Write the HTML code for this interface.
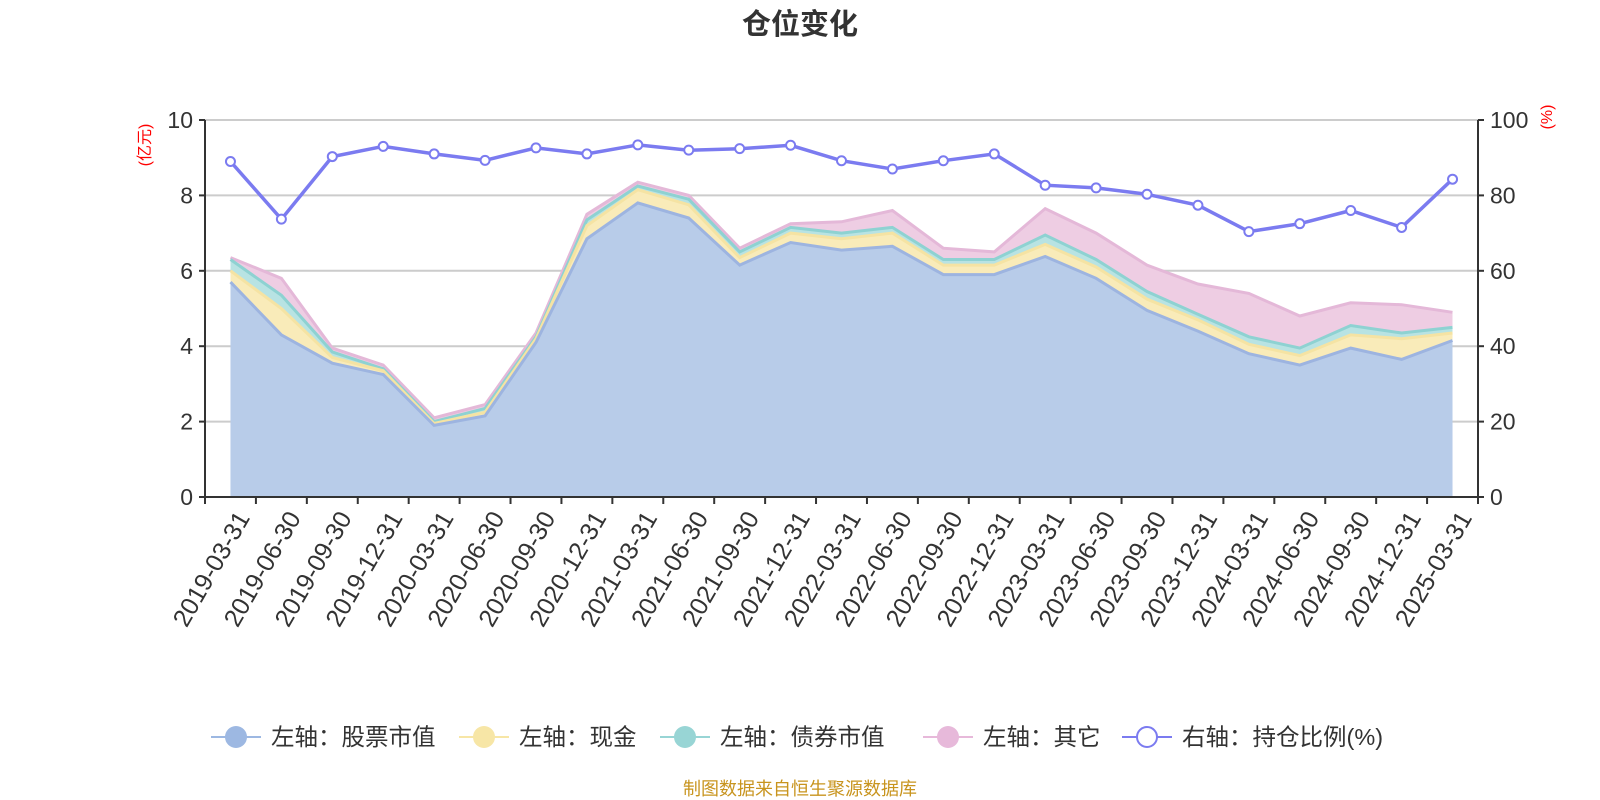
<!DOCTYPE html>
<html><head><meta charset="utf-8">
<style>
html,body{margin:0;padding:0;background:#fff;}
svg{display:block;font-family:"Liberation Sans","Noto Sans CJK SC",sans-serif;}
</style></head>
<body>
<svg id="c" width="1600" height="800" viewBox="0 0 1600 800" xmlns="http://www.w3.org/2000/svg">
<text x="800" y="34" text-anchor="middle" font-size="29" font-weight="bold" fill="#333">仓位变化</text>
<g id="grid"></g>
<g id="areas"></g>
<g id="axes"></g>
<g id="line"></g>
<text transform="translate(150,145) rotate(-90)" text-anchor="middle" font-size="16" fill="#f00">(亿元)</text>
<text transform="translate(1552,117) rotate(-90)" text-anchor="middle" font-size="16" fill="#f00">(%)</text>
<g id="legend" font-size="23.5" fill="#333"></g>
<text x="800" y="795" text-anchor="middle" font-size="18" fill="#c8941e">制图数据来自恒生聚源数据库</text>
</svg>
<script>
const NS="http://www.w3.org/2000/svg";
function el(p,t,a,txt){const e=document.createElementNS(NS,t);for(const k in a)e.setAttribute(k,a[k]);if(txt!=null)e.textContent=txt;document.getElementById(p).appendChild(e);return e;}
const dates=["2019-03-31","2019-06-30","2019-09-30","2019-12-31","2020-03-31","2020-06-30","2020-09-30","2020-12-31","2021-03-31","2021-06-30","2021-09-30","2021-12-31","2022-03-31","2022-06-30","2022-09-30","2022-12-31","2023-03-31","2023-06-30","2023-09-30","2023-12-31","2024-03-31","2024-06-30","2024-09-30","2024-12-31","2025-03-31"];
const stock=[5.7,4.3,3.55,3.25,1.9,2.15,4.1,6.85,7.8,7.4,6.15,6.75,6.55,6.65,5.9,5.9,6.38,5.8,4.95,4.4,3.8,3.5,3.95,3.65,4.15];
const cash=[6.0,5.0,3.7,3.35,1.95,2.25,4.2,7.2,8.15,7.75,6.35,7.0,6.85,7.0,6.15,6.15,6.7,6.1,5.25,4.7,4.05,3.75,4.3,4.2,4.35];
const bond=[6.3,5.35,3.85,3.4,2.0,2.35,4.25,7.35,8.25,7.9,6.5,7.15,7.0,7.15,6.3,6.3,6.95,6.3,5.45,4.85,4.25,3.95,4.55,4.35,4.5];
const other=[6.35,5.8,3.95,3.5,2.1,2.45,4.35,7.5,8.35,8.0,6.6,7.25,7.3,7.6,6.6,6.5,7.65,7.0,6.15,5.65,5.4,4.8,5.15,5.1,4.9];
const ratio=[89,73.7,90.3,93,91,89.3,92.6,91,93.4,92,92.4,93.3,89.2,87,89.2,91,82.7,82,80.3,77.4,70.4,72.5,76,71.5,84.3];
const L=205,R=1478,T=120,B=497,n=25,step=(R-L)/n;
const X=i=>L+step*(i+0.5), Y=v=>B-(B-T)*v/10, Yr=v=>B-(B-T)*v/100;
for(let k=0;k<=5;k++){const y=B-(B-T)*k/5;
 if(k>0)el("grid","line",{x1:L,x2:R,y1:y,y2:y,stroke:"#ccc","stroke-width":2});
 el("axes","line",{x1:L-6,x2:L,y1:y,y2:y,stroke:"#333","stroke-width":2});
 el("axes","line",{x1:R,x2:R+6,y1:y,y2:y,stroke:"#333","stroke-width":2});
 el("axes","text",{x:L-12,y:y+8,"text-anchor":"end","font-size":23,fill:"#333"},String(k*2));
 el("axes","text",{x:R+12,y:y+8,"font-size":23,fill:"#333"},String(k*20));}
function pts(a,f){return a.map((v,i)=>X(i).toFixed(1)+","+f(v).toFixed(1));}
const layers=[[other,bond,"#eecde3","#e4b8d8"],[bond,cash,"#b8e3e3","#8ed2d2"],[cash,stock,"#f9ebb9","#f5e3a3"],[stock,null,"#b8cce9","#9db4e0"]];
for(const [top,bot,fill,st] of layers){
 const up=pts(top,Y);
 const down=bot?pts(bot,Y).reverse():[X(n-1)+","+B,X(0)+","+B];
 el("areas","polygon",{points:up.concat(down).join(" "),fill:fill});
}
for(const [top,bot,fill,st] of layers){el("areas","polyline",{points:pts(top,Y).join(" "),fill:"none",stroke:st,"stroke-width":3});}
el("axes","line",{x1:L,x2:L,y1:T,y2:B,stroke:"#333","stroke-width":2});
el("axes","line",{x1:R,x2:R,y1:T,y2:B,stroke:"#333","stroke-width":2});
el("axes","line",{x1:L,x2:R,y1:B,y2:B,stroke:"#333","stroke-width":2});
for(let i=0;i<=n;i++){const x=L+step*i;el("axes","line",{x1:x,x2:x,y1:B,y2:B+7,stroke:"#333","stroke-width":2});}
dates.forEach((d,i)=>{el("axes","text",{transform:`translate(${X(i)+5},${B+12}) rotate(-60)`,"text-anchor":"end","font-size":25,fill:"#333",dy:"0.7em"},d);});
el("line","polyline",{points:pts(ratio,Yr).join(" "),fill:"none",stroke:"#7b7bf0","stroke-width":3.5});
ratio.forEach((v,i)=>el("line","circle",{cx:X(i),cy:Yr(v),r:4.5,fill:"#fff",stroke:"#7b7bf0","stroke-width":2}));
const leg=[["左轴：股票市值","#9db8e2",true],["左轴：现金","#f7e6a6",true],["左轴：债券市值","#98d5d5",true],["左轴：其它","#e7b9da",true],["右轴：持仓比例(%)","#7b7bf0",false]];
const starts=[211,459,660,923,1122];const ly=737;
leg.forEach(([t,c,f],i)=>{const x=starts[i];
 el("legend","line",{x1:x,x2:x+50,y1:ly,y2:ly,stroke:c,"stroke-width":2});
 el("legend","circle",{cx:x+25,cy:ly,r:f?11:10,fill:f?c:"#fff",stroke:c,"stroke-width":f?0:2});
 el("legend","text",{x:x+60,y:ly+8},t);
});
</script>
</body></html>
